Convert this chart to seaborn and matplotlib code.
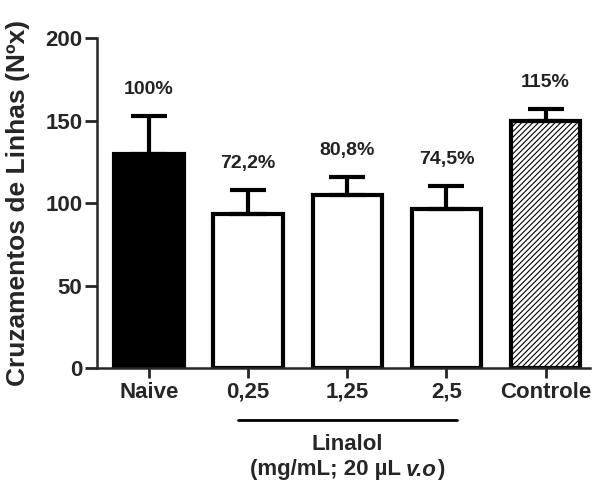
import numpy as np
import pandas as pd
import seaborn as sns
from matplotlib import pyplot as plt

# dados
grupos = ['Naive', '0,25', '1,25', '2,5', 'Controle']
medias = [130, 93.5, 105, 96.5, 149.5]
erros = [23, 14.5, 11, 14, 7.5]
rotulos = ['100%', '72,2%', '80,8%', '74,5%', '115%']
cores = ['black', 'white', 'white', 'white', 'white']
hachuras = ['', '', '', '', '//////']

sns.set_style('ticks')
plt.rcParams['font.family'] = ['Liberation Sans', 'DejaVu Sans']
plt.rcParams['hatch.linewidth'] = 0.8

fig = plt.figure(figsize=(5.97, 4.83), dpi=100)
ax = fig.add_axes([0.1625, 0.238, 0.826, 0.683])

df = pd.DataFrame({'grupo': grupos, 'media': medias})
sns.barplot(data=df, x='grupo', y='media', order=grupos, errorbar=None,
            width=0.7, ax=ax, color='white')

for barra, cor, h in zip(ax.patches, cores, hachuras):
    barra.set_facecolor(cor)
    barra.set_edgecolor('black')
    barra.set_linewidth(3)
    barra.set_hatch(h)

# barras de erro só para cima
x = np.arange(len(grupos))
ax.errorbar(x, medias, yerr=[np.zeros(len(erros)), erros], fmt='none',
            ecolor='black', elinewidth=3, capsize=13, capthick=3, zorder=1)

for xi, m, e, r in zip(x, medias, erros, rotulos):
    ax.text(xi, m + e + 16, r, ha='center', va='center', fontsize=14,
            fontweight='bold', color='#222222')

ax.set_ylim(0, 200)
ax.set_xlim(-0.525, 4.45)
ax.set_yticks([0, 50, 100, 150, 200])
ax.set_xlabel('')
ax.set_ylabel('Cruzamentos de Linhas (Nºx)', fontsize=19, fontweight='bold')
ax.yaxis.set_label_coords(-0.136, 0.5)
ax.tick_params(axis='y', labelsize=16, width=2, length=8.5, direction='out', pad=2)
ax.tick_params(axis='x', labelsize=16, width=2, length=7, direction='out', pad=3)
for lab in ax.get_xticklabels() + ax.get_yticklabels():
    lab.set_fontweight('bold')
ax.spines['left'].set_linewidth(1.8)
ax.spines['bottom'].set_linewidth(1.8)
sns.despine(ax=ax)

# traço do grupo Linalol
fig.add_artist(plt.Line2D([238 / 597, 457 / 597], [1 - 420 / 483, 1 - 420 / 483],
                          color='black', lw=2))
fig.text(347 / 597, 1 - 445 / 483, 'Linalol', ha='center', va='center',
         fontsize=16, fontweight='bold')

# segunda linha com "v.o" em itálico, montada em pedaços
partes = [('(mg/mL; 20 µL ', 'normal'), ('v.o', 'italic'), (')', 'normal')]
render = fig.canvas.get_renderer()
textos = [fig.text(0, 1 - 470 / 483, p, ha='left', va='center', fontsize=16,
                   fontweight='bold', fontstyle=s) for p, s in partes]
larguras = [t.get_window_extent(render).width for t in textos]
xpos = 347 - sum(larguras) / 2
for t, w in zip(textos, larguras):
    t.set_x(xpos / 597)
    xpos += w

fig.savefig('out.png', dpi=100)
